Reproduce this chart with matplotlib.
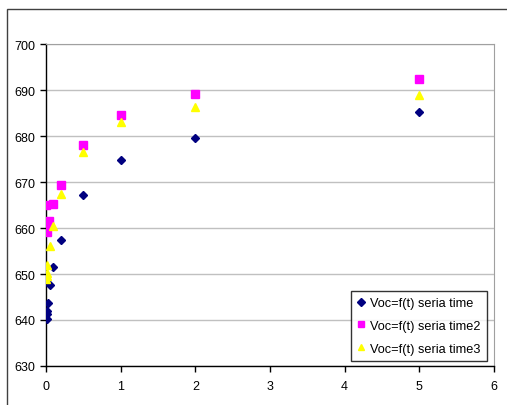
import matplotlib
matplotlib.use("Agg")
import matplotlib.pyplot as plt
from matplotlib.patches import Rectangle

plt.rcParams['font.family'] = ['Liberation Sans', 'DejaVu Sans']

# Data
t1 = [0.01, 0.015, 0.02, 0.025, 0.05, 0.1, 0.2, 0.5, 1, 2, 5]
v1 = [640.2, 641.2, 642.0, 643.7, 647.6, 651.6, 657.3, 667.2, 674.8, 679.6, 685.2]

t2 = [0.0, 0.01, 0.015, 0.045, 0.1, 0.2, 0.5, 1, 2, 5]
v2 = [664.9, 659.1, 660.4, 661.5, 665.2, 669.3, 678.0, 684.6, 689.1, 692.5]

t3 = [0.005, 0.01, 0.015, 0.02, 0.05, 0.1, 0.2, 0.5, 1, 2, 5]
v3 = [648.9, 649.6, 650.3, 652.0, 656.0, 660.5, 667.3, 676.6, 683.0, 686.4, 689.0]

labels = ["Voc=f(t) seria time", "Voc=f(t) seria time2", "Voc=f(t) seria time3"]
xticks = [0, 1, 2, 3, 4, 5, 6]
yticks = [630, 640, 650, 660, 670, 680, 690, 700]

W, H = 507, 406
fig = plt.figure(figsize=(W / 100, H / 100), dpi=100)
fig.patch.set_facecolor('white')

# outer chart frame
fig.patches.append(Rectangle((7 / W, -0.1), 1.2, (H - 10) / H + 0.1,
                             transform=fig.transFigure, fill=False,
                             edgecolor='#404040', linewidth=1.0))

ax = fig.add_axes([46 / W, (H - 367) / H, (494 - 46) / W, (367 - 45) / H])

ax.plot(t1, v1, linestyle='none', marker='D', markersize=4.5,
        color='#000080', markeredgecolor='#000080', label=labels[0], zorder=3)
ax.plot(t2, v2, linestyle='none', marker='s', markersize=6,
        color='#ff00ff', markeredgecolor='#ff00ff', label=labels[1], zorder=3)
ax.plot(t3, v3, linestyle='none', marker='^', markersize=6,
        color='#ffff00', markeredgecolor='#ffff00', label=labels[2], zorder=3)

ax.set_xlim(0, 6)
ax.set_ylim(630, 700)
ax.set_xticks(xticks)
ax.set_yticks(yticks)
ax.yaxis.grid(True, color='#c0c0c0', linewidth=1.0)
ax.set_axisbelow(True)

for s in ['top', 'right']:
    ax.spines[s].set_color('#a0a0a0')
for s in ['left', 'bottom']:
    ax.spines[s].set_color('black')
    ax.spines[s].set_linewidth(1.0)

ax.tick_params(axis='both', direction='out', length=4, width=1,
               labelsize=9, colors='black', pad=4)
ax.tick_params(axis='x', pad=6)

leg = ax.legend(loc='lower right', bbox_to_anchor=(0.985, 0.015),
                fontsize=9.2, frameon=True, fancybox=False,
                edgecolor='black', handlelength=0.6, handletextpad=0.45,
                borderpad=0.5, labelspacing=0.85, markerscale=0.8,
                borderaxespad=0)
leg.get_frame().set_linewidth(1.0)

fig.savefig('out.png', dpi=100)
